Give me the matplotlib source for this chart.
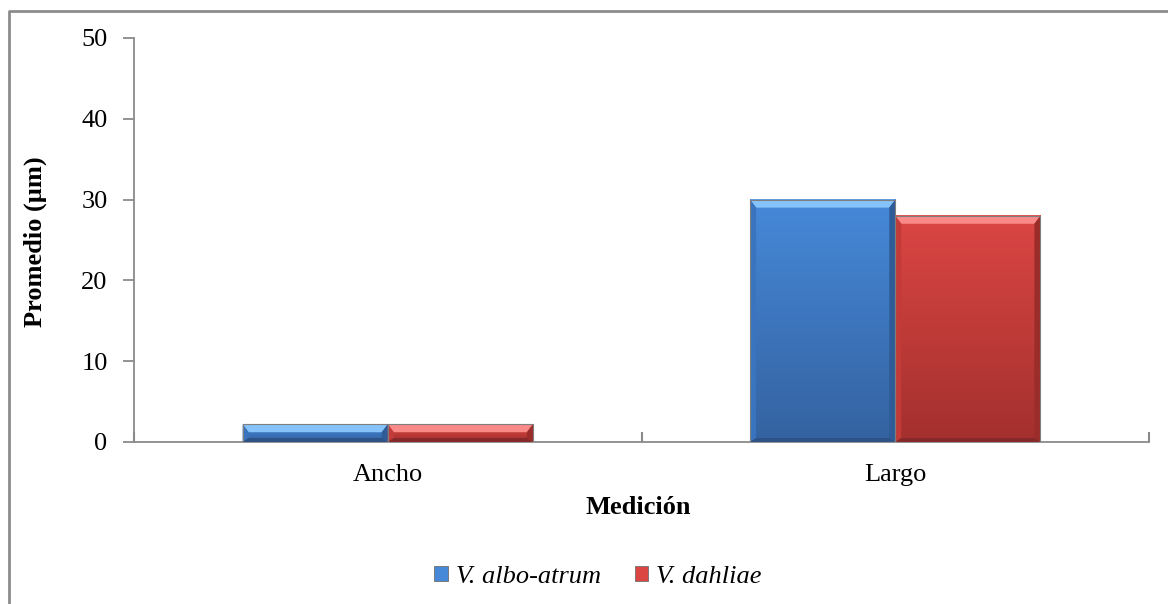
import numpy as np
import matplotlib
matplotlib.use("Agg")
import matplotlib.pyplot as plt
from matplotlib.patches import Polygon, Patch
from matplotlib.lines import Line2D
from matplotlib.colors import LinearSegmentedColormap

# Data
categories = ["Ancho", "Largo"]
series_names = ["V. albo-atrum", "V. dahliae"]
values_albo = [2.2, 30.0]
values_dahliae = [2.2, 28.0]
y_ticks = [0, 10, 20, 30, 40, 50]

plt.rcParams["font.family"] = ["Liberation Serif", "DejaVu Serif"]
FS = 19

W, H = 1168, 604
fig = plt.figure(figsize=(W / 100, H / 100), dpi=100)
fig.patch.set_facecolor("white")

ax_left, ax_right, ax_bottom, ax_top = 134, 1149, 442, 38
ax = fig.add_axes([ax_left / W, 1 - ax_bottom / H,
                   (ax_right - ax_left) / W, (ax_bottom - ax_top) / H])

xlim = (-0.5, 1.5)
ylim = (0, 50)
dx_px = (xlim[1] - xlim[0]) / (ax_right - ax_left)
dy_px = (ylim[1] - ylim[0]) / (ax_bottom - ax_top)

bar_w = 0.286
styles = [
    dict(top="#4689D9", bot="#3462A0", light="#86C3FA", left="#3A74BE",
         right="#2F5C96", dark="#2C5287"),
    dict(top="#DB4643", bot="#A3302E", light="#F98A88", left="#C23B39",
         right="#9A2C2A", dark="#87282A"),
]


def bevel_bar(x0, w, h, st):
    # body with vertical gradient
    grad = np.linspace(0, 1, 256).reshape(-1, 1)
    cmap = LinearSegmentedColormap.from_list("g", [st["top"], st["bot"]])
    ax.imshow(grad, cmap=cmap, extent=[x0, x0 + w, 0, h], aspect="auto",
              origin="upper", zorder=2, interpolation="bilinear")
    # bevelled edges
    bx = 6 * dx_px
    by = min(8 * dy_px, h * 0.55)
    byb = min(4 * dy_px, h * 0.3)
    top = Polygon([(x0, h), (x0 + w, h), (x0 + w - bx, h - by), (x0 + bx, h - by)],
                  closed=True, facecolor=st["light"], edgecolor="none", zorder=3)
    left = Polygon([(x0, 0), (x0, h), (x0 + bx, h - by), (x0 + bx, byb)],
                   closed=True, facecolor=st["left"], edgecolor="none", zorder=3)
    right = Polygon([(x0 + w, 0), (x0 + w, h), (x0 + w - bx, h - by), (x0 + w - bx, byb)],
                    closed=True, facecolor=st["right"], edgecolor="none", zorder=3)
    bottom = Polygon([(x0, 0), (x0 + w, 0), (x0 + w - bx, byb), (x0 + bx, byb)],
                     closed=True, facecolor=st["dark"], edgecolor="none", zorder=3)
    for p in (top, left, right, bottom):
        ax.add_patch(p)
    ax.add_patch(plt.Rectangle((x0, 0), w, h, facecolor="none",
                               edgecolor="#7f7f7f", lw=0.8, zorder=4))


x = np.arange(len(categories))
for i, vals in enumerate([values_albo, values_dahliae]):
    for xi, v in zip(x, vals):
        x0 = xi - bar_w + i * bar_w
        bevel_bar(x0, bar_w, v, styles[i])

ax.set_xlim(*xlim)
ax.set_ylim(*ylim)

# axes styling
for s in ("top", "right"):
    ax.spines[s].set_visible(False)
for s in ("left", "bottom"):
    ax.spines[s].set_color("#8a8a8a")
    ax.spines[s].set_linewidth(1.3)

ax.set_yticks(y_ticks)
ax.set_yticklabels([str(t) for t in y_ticks])
ax.tick_params(axis="y", direction="out", length=8, width=1.3, color="#8a8a8a",
               labelsize=FS, pad=11)
ax.set_xticks(x)
ax.set_xticklabels(categories)
ax.tick_params(axis="x", which="major", length=0, labelsize=FS, pad=16)
ax.set_xticks([-0.5, 0.5, 1.5], minor=True)
ax.tick_params(axis="x", which="minor", direction="in", length=7, width=1.5,
               color="#8a8a8a")

fig.text(35 / W, 1 - 242 / H, "Promedio (µm)", rotation=90, ha="center",
         va="center", fontsize=FS, fontweight="bold")
fig.text(638 / W, 1 - 507 / H, "Medición", ha="center", va="center",
         fontsize=FS, fontweight="bold")

handles = [Patch(facecolor=styles[0]["top"], edgecolor="#6f6f6f", lw=0.6),
           Patch(facecolor=styles[1]["top"], edgecolor="#6f6f6f", lw=0.6)]
fig.legend(handles, series_names, loc="center", bbox_to_anchor=(598 / W, 1 - 577 / H),
           ncol=2, frameon=False,
           prop=dict(family="Liberation Serif", style="italic", size=FS),
           handlelength=0.5, handleheight=0.5, handletextpad=0.3, columnspacing=1.3)

# outer chart frame (left and top edges)
fig.add_artist(Line2D([9 / W, 9 / W, 1.0], [0.0, 1 - 11 / H, 1 - 11 / H],
                      transform=fig.transFigure, color="#8c8c8c", lw=2))

fig.savefig("out.png", dpi=100)
